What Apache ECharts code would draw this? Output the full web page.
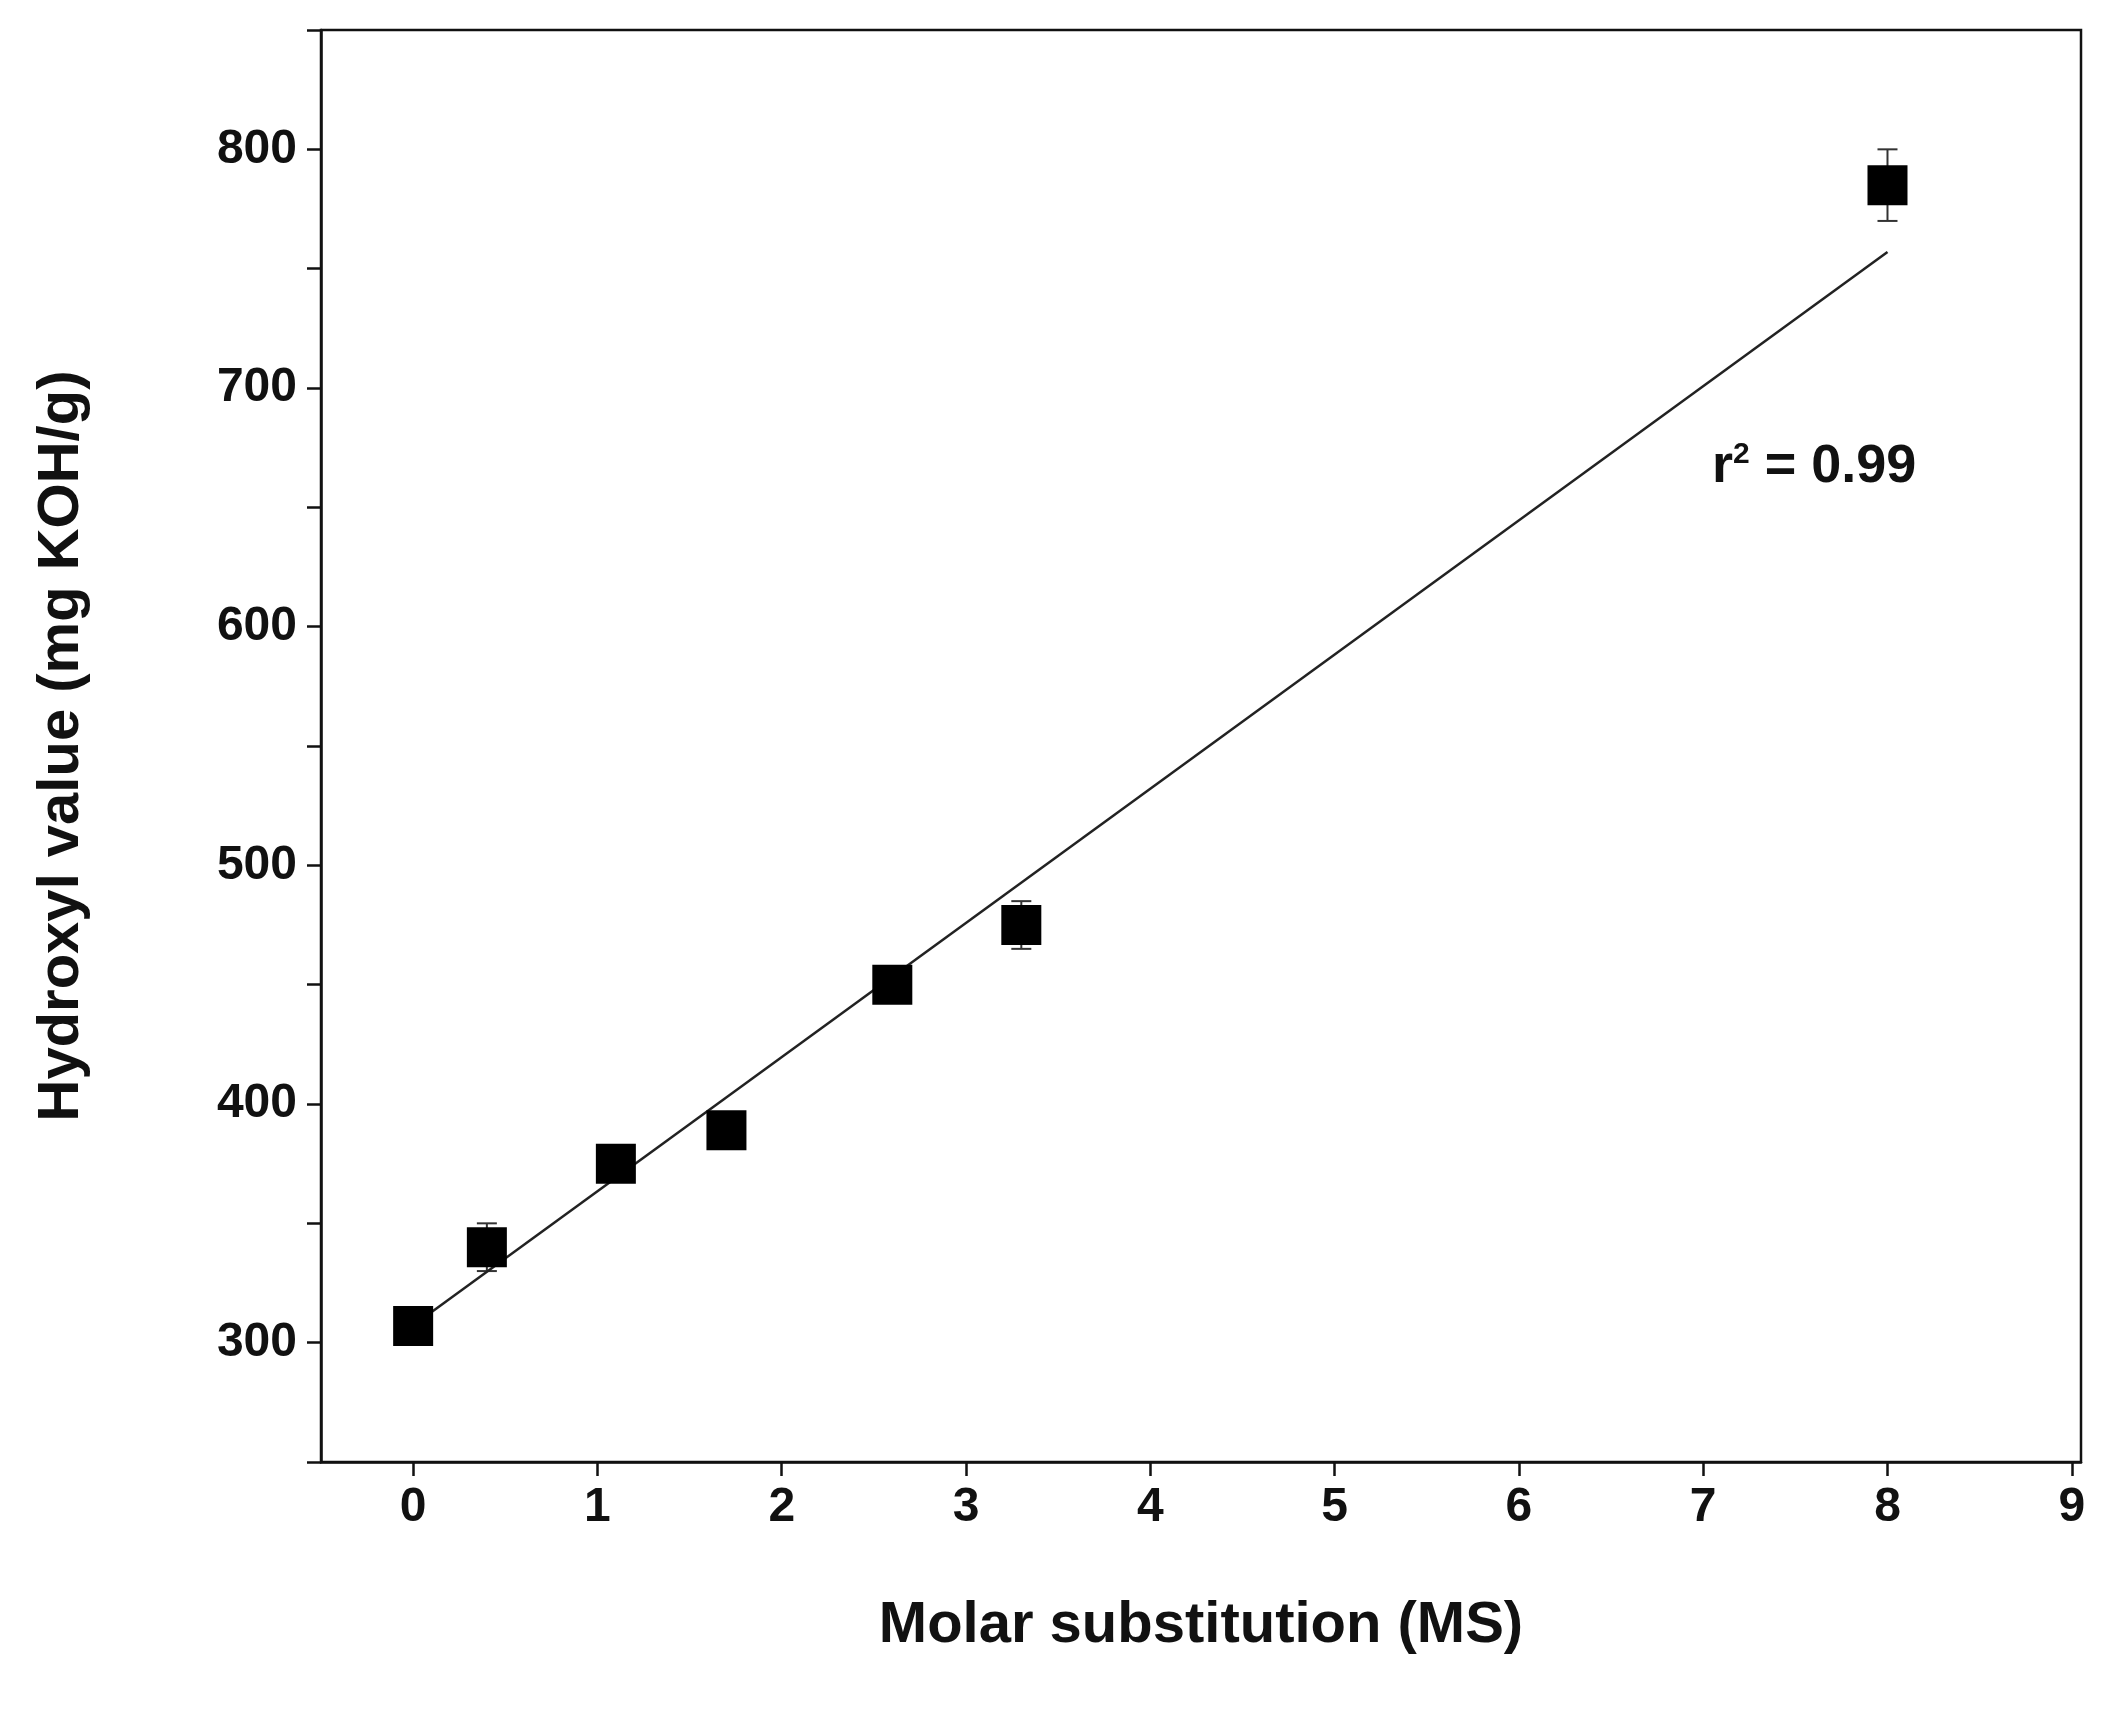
<!DOCTYPE html>
<html><head><meta charset="utf-8">
<script src="https://cdn.jsdelivr.net/npm/echarts@6/dist/echarts.min.js"></script>
<style>html,body{margin:0;padding:0;background:#fff}#c{width:2105px;height:1712px}</style>
</head><body><div id="c"></div>
<script>
const msValues = [0, 0.4, 1.1, 1.7, 2.6, 3.3, 8];
const hydroxyl = [307, 340, 375, 389, 450, 475, 785];
const errors = [5, 10, 6, 6, 6, 10, 15];
const fitLine = [[0.05, 310], [8, 757]];
const xTicks = [0,1,2,3,4,5,6,7,8,9];
const yTicks = [300,400,500,600,700,800];
const yMinor = [250,300,350,400,450,500,550,600,650,700,750,800,850];

const pts = msValues.map((x,i)=>[x, hydroxyl[i]]);
const errData = msValues.map((x,i)=>[x, hydroxyl[i]-errors[i], hydroxyl[i]+errors[i]]);
const F = 'Liberation Sans, Arial, sans-serif';
const chart = echarts.init(document.getElementById('c'));
chart.setOption({
  animation:false,
  grid:{left:321, top:30, width:1760, height:1432},
  xAxis:{type:'value', min:-0.5, max:9.05,
    name:'Molar substitution (MS)', nameLocation:'middle', nameGap:135,
    nameTextStyle:{fontFamily:F, fontWeight:'bold', fontSize:58, color:'#111'},
    axisLine:{onZero:false, lineStyle:{color:'#111', width:2.5}},
    axisTick:{customValues:xTicks, length:14, lineStyle:{color:'#111', width:2.5}},
    axisLabel:{customValues:xTicks, fontFamily:F, fontWeight:'bold', fontSize:48, color:'#111', margin:22},
    splitLine:{show:false}},
  yAxis:{type:'value', min:250, max:850,
    name:'Hydroxyl value (mg KOH/g)', nameLocation:'middle', nameGap:230,
    nameTextStyle:{fontFamily:F, fontWeight:'bold', fontSize:58, color:'#111'},
    axisLine:{onZero:false, lineStyle:{color:'#111', width:2.5}},
    axisTick:{customValues:yMinor, length:14, lineStyle:{color:'#111', width:2.5}},
    axisLabel:{customValues:yTicks, fontFamily:F, fontWeight:'bold', fontSize:48, color:'#111', margin:24},
    splitLine:{show:false}},
  graphic:[
    {type:'rect', shape:{x:321,y:30,width:1760,height:1432}, style:{fill:'none', stroke:'#111', lineWidth:2.5}, silent:true},
    {type:'text', left:1712, top:440, style:{rich:{b:{fontFamily:F,fontWeight:'bold',fontSize:54,fill:'#111'},s:{fontFamily:F,fontWeight:'bold',fontSize:30,fill:'#111',verticalAlign:'top',padding:[0,0,24,0]}}, text:'{b|r}{s|2}{b| = 0.99}'}}
  ],
  series:[
    {type:'line', data:fitLine, symbol:'none', lineStyle:{color:'#222', width:2.5}},
    {type:'custom', data:errData, renderItem:(p,api)=>{
      const x=api.value(0), lo=api.coord([x,api.value(1)]), hi=api.coord([x,api.value(2)]);
      const w=10, st={stroke:'#333', lineWidth:2};
      return {type:'group', children:[
        {type:'line', shape:{x1:lo[0],y1:lo[1],x2:hi[0],y2:hi[1]}, style:st},
        {type:'line', shape:{x1:lo[0]-w,y1:lo[1],x2:lo[0]+w,y2:lo[1]}, style:st},
        {type:'line', shape:{x1:hi[0]-w,y1:hi[1],x2:hi[0]+w,y2:hi[1]}, style:st}]};
    }, z:3},
    {type:'scatter', data:pts, symbol:'rect', symbolSize:40, itemStyle:{color:'#000', opacity:1}, z:4}
  ]
});
</script></body></html>
